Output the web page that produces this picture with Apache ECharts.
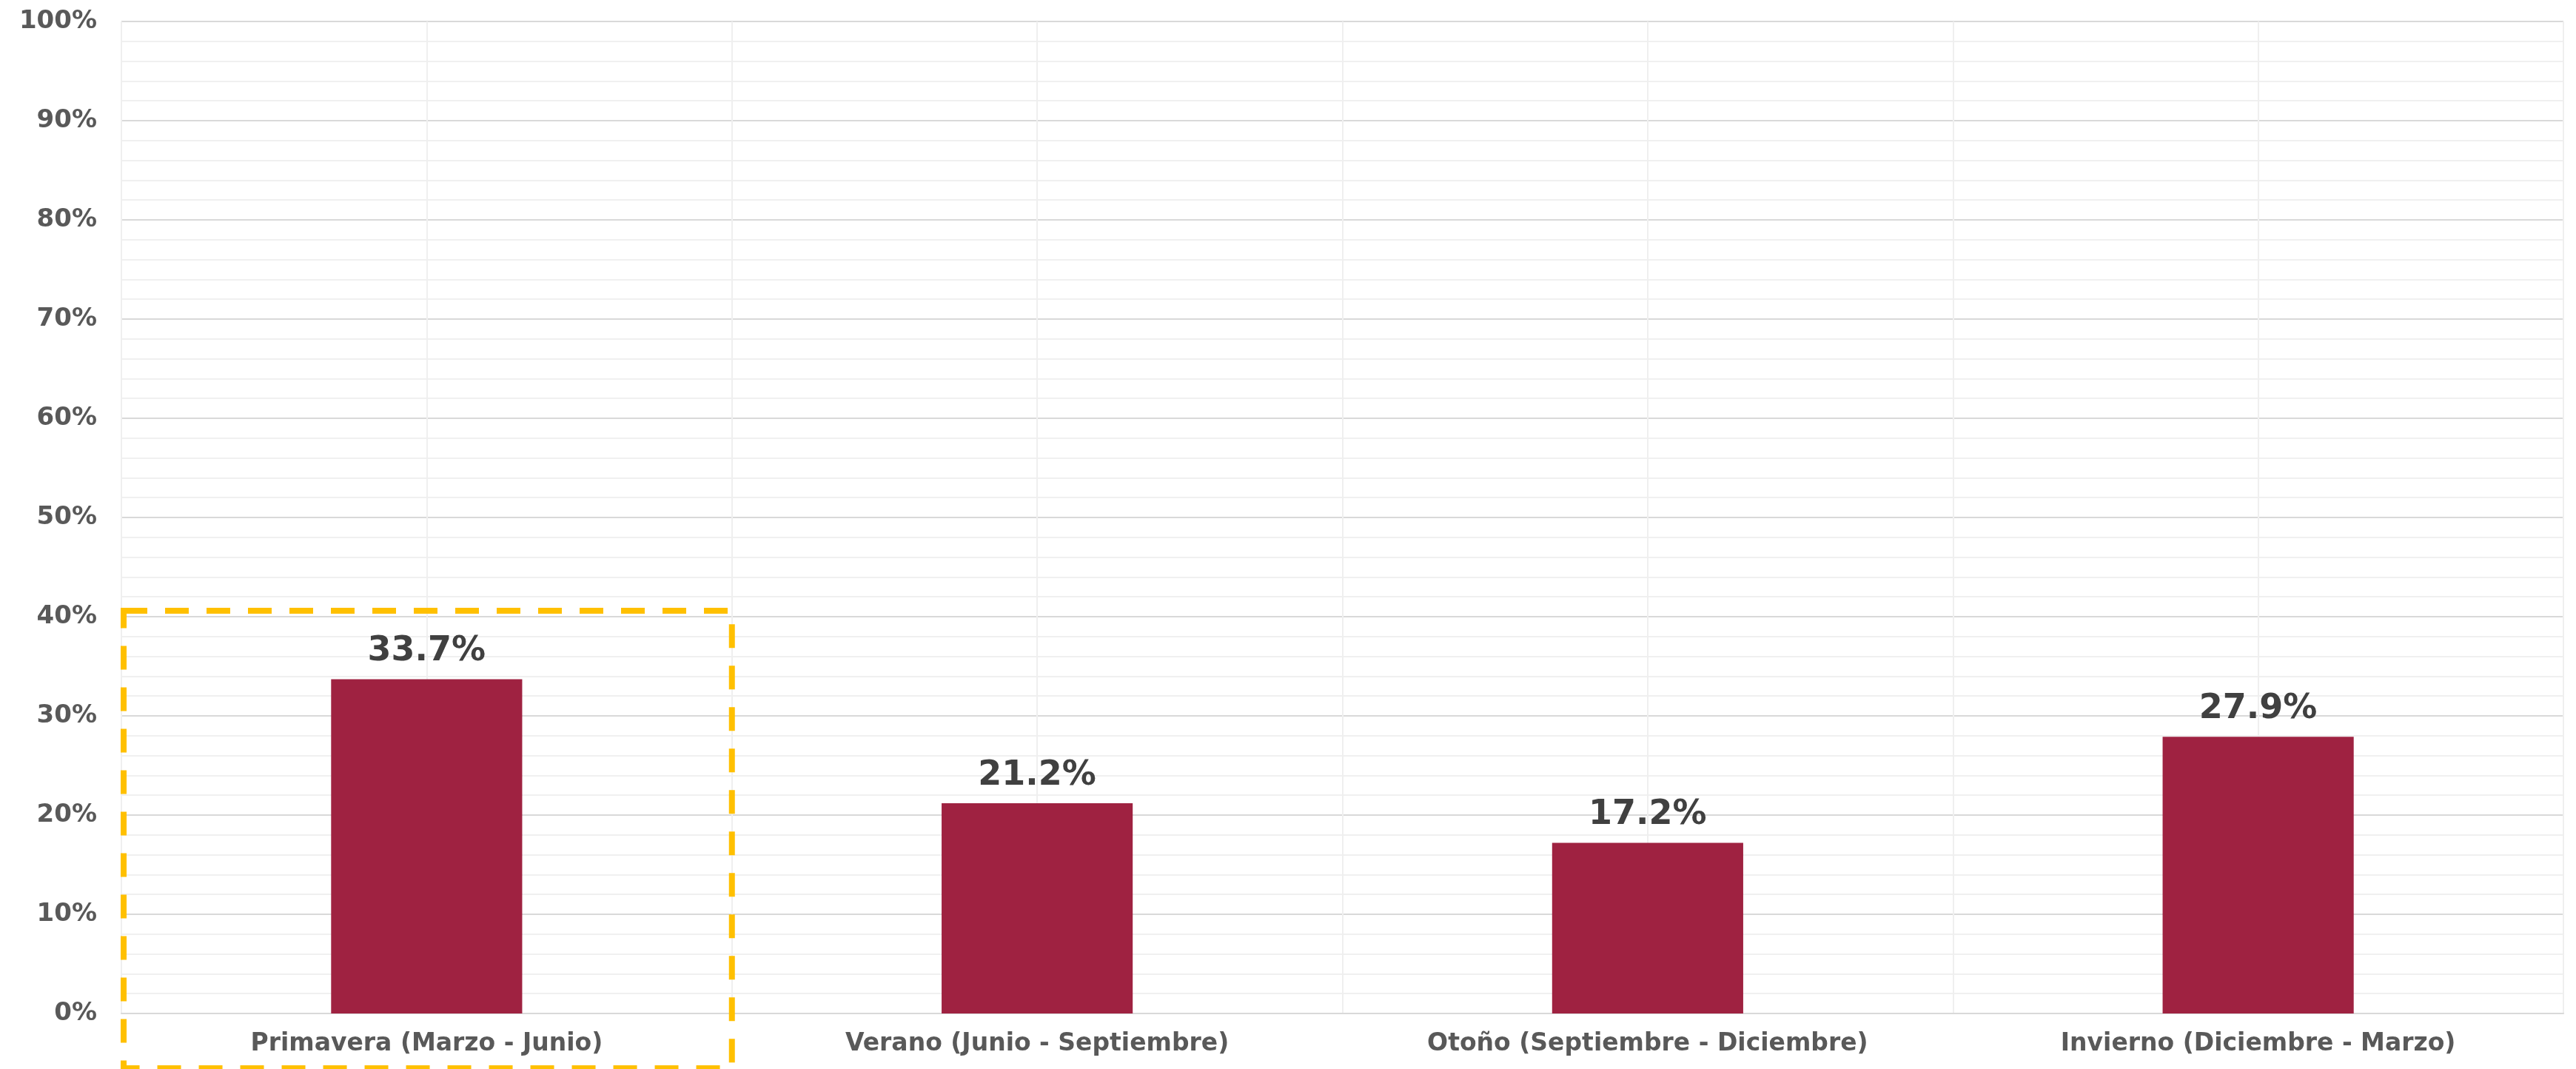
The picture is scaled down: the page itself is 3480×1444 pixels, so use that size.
<!DOCTYPE html>
<html>
<head>
<meta charset="utf-8">
<script src="https://cdn.jsdelivr.net/npm/echarts@6/dist/echarts.min.js"></script>
<style>
html,body{margin:0;padding:0;background:#fff;}
#c{width:3480px;height:1444px;}
</style>
</head>
<body>
<div id="c"></div>
<script>
const categories = ['Primavera (Marzo - Junio)', 'Verano (Junio - Septiembre)', 'Otoño (Septiembre - Diciembre)', 'Invierno (Diciembre - Marzo)'];
const values = [33.7, 21.2, 17.2, 27.9];
const highlightTop = 40.6;

const FONT = '"DejaVu Sans", Verdana, sans-serif';
const chart = echarts.init(document.getElementById('c'));
const option = {
  backgroundColor: '#ffffff',
  animation: false,
  grid: { left: 164, right: 17, top: 29, bottom: 75, containLabel: false },
  xAxis: [{
    type: 'category',
    data: categories,
    boundaryGap: true,
    axisLine: { show: true, lineStyle: { color: '#d9d9d9', width: 2 } },
    axisTick: { show: false },
    splitLine: { show: false },
    axisLabel: { color: '#595959', fontFamily: FONT, fontWeight: 'bold', fontSize: 33, margin: 25 }
  }, {
    type: 'value',
    min: 0, max: 4, interval: 0.5,
    position: 'bottom',
    axisLine: { show: false }, axisTick: { show: false }, axisLabel: { show: false },
    splitLine: { show: true, lineStyle: { color: '#efefef', width: 2 } }
  }],
  yAxis: {
    type: 'value',
    min: 0, max: 100, interval: 10,
    axisLine: { show: false },
    axisTick: { show: false },
    axisLabel: { formatter: '{value}%', color: '#595959', fontFamily: FONT, fontWeight: 'bold', fontSize: 34, margin: 33 },
    splitLine: { show: true, lineStyle: { color: '#d9d9d9', width: 2 } },
    minorTick: { show: false, splitNumber: 5 },
    minorSplitLine: { show: true, lineStyle: { color: '#f0f0f0', width: 2 } }
  },
  series: [{
    type: 'bar',
    xAxisIndex: 0,
    data: values,
    barWidth: '31.3%',
    itemStyle: { color: '#9f2241' },
    label: {
      show: true, position: 'top', distance: 14,
      formatter: p => p.value.toFixed(1) + '%',
      color: '#404040', fontFamily: FONT, fontWeight: 'bold', fontSize: 46
    },
    z: 3
  }]
};
chart.setOption(option);

function drawBox() {
  const leftEdge = chart.convertToPixel({ xAxisIndex: 1 }, 0);
  const rightEdge = chart.convertToPixel({ xAxisIndex: 1 }, 1);
  const topY = chart.convertToPixel({ yAxisIndex: 0 }, highlightTop);
  const bottomY = chart.getHeight() - 1;
  chart.setOption({
    graphic: [{
      type: 'rect',
      z: 100,
      shape: { x: leftEdge + 3, y: topY, width: rightEdge - leftEdge - 3, height: bottomY - topY },
      style: { fill: 'none', stroke: '#ffc000', lineWidth: 8, lineDash: [32, 24] }
    }]
  });
}
drawBox();
</script>
</body>
</html>
